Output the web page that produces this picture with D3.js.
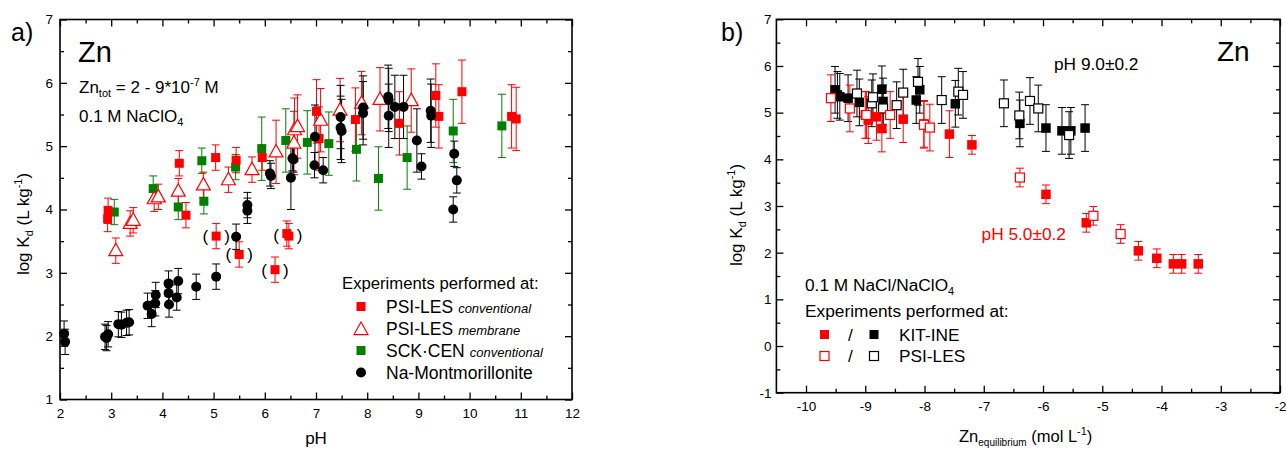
<!DOCTYPE html>
<html><head><meta charset="utf-8">
<script src="https://cdn.jsdelivr.net/npm/d3@7"></script>
<style>
body{margin:0;background:#fff;}
svg text{font-family:Arial,"Liberation Sans",sans-serif;}
</style></head>
<body><svg id="c" width="1286" height="450"></svg>
<script>
// ---------- Panel a) data: [pH, log Kd, error] ----------
const psiConv = [[2.93,3.85,0.2],[2.94,3.98,0.2],[4.33,4.73,0.2],[4.46,3.91,0.2],[5.04,4.82,0.2],[5.44,4.78,0.2],[5.95,4.82,0.2],[7.01,5.55,0.5],[7.06,5.12,0.5],[7.77,5.42,0.5],[8.63,5.36,0.5],[9.34,5.80,0.5],[9.40,5.47,0.5],[9.85,5.86,0.5],[10.82,5.47,0.5],[10.91,5.43,0.5]];
const psiConvBracketed = [[5.05,3.58,0.2],[5.50,3.29,0.2],[6.20,3.05,0.2],[6.43,3.62,0.2],[6.47,3.58,0.2]];
const psiMembrane = [[3.09,3.35,0.2],[3.37,3.78,0.2],[3.43,3.83,0.2],[3.84,4.17,0.2],[3.92,4.20,0.2],[4.31,4.29,0.2],[4.80,4.39,0.2],[5.29,4.47,0.2],[5.75,4.63,0.2],[6.22,4.91,0.5],[6.57,5.05,0.5],[6.58,5.26,0.5],[6.64,5.31,0.5],[7.09,5.41,0.5],[7.47,5.57,0.5],[7.89,5.68,0.5],[8.25,5.74,0.5],[8.86,5.72,0.5]];
const sckConv = [[3.06,3.96,0.2],[3.82,4.33,0.2],[4.31,4.04,0.2],[4.77,4.77,0.2],[4.81,4.13,0.2],[5.43,4.67,0.2],[5.94,4.96,0.5],[6.41,5.09,0.5],[6.83,5.06,0.5],[7.25,5.04,0.5],[7.79,4.95,0.5],[8.22,4.49,0.5],[8.78,4.82,0.5],[9.68,5.24,0.5],[10.63,5.32,0.5]];
const naMont = [[2.08,2.04,0.2],[2.10,1.91,0.2],[2.88,1.99,0.2],[2.94,2.03,0.2],[2.91,1.97,0.2],[3.14,2.19,0.2],[3.20,2.18,0.2],[3.30,2.21,0.2],[3.35,2.22,0.2],[3.71,2.48,0.2],[3.79,2.35,0.2],[3.86,2.52,0.2],[3.87,2.65,0.2],[4.12,2.83,0.2],[4.12,2.68,0.2],[4.13,2.50,0.2],[4.28,2.61,0.2],[4.31,2.87,0.2],[4.66,2.78,0.2],[5.05,2.94,0.2],[5.44,3.57,0.2],[5.66,4.07,0.2],[5.66,3.98,0.2],[6.10,4.57,0.2],[6.12,4.53,0.2],[6.51,4.50,0.5],[6.54,4.81,0.2],[6.56,4.79,0.2],[6.98,5.15,0.5],[6.97,4.70,0.2],[7.14,4.62,0.2],[7.48,5.46,0.5],[7.48,5.29,0.5],[7.50,5.24,0.5],[7.92,5.61,0.5],[7.92,5.52,0.5],[8.41,5.78,0.5],[8.42,5.73,0.5],[8.42,5.48,0.5],[8.54,5.62,0.5],[8.71,5.62,0.5],[8.97,5.09,0.5],[9.06,4.68,0.2],[9.24,5.56,0.5],[9.25,5.48,0.5],[9.70,4.88,0.2],[9.75,4.46,0.2],[9.68,4.00,0.2]];
const xTicksA = [2,3,4,5,6,7,8,9,10,11,12];
const yTicksA = [1,2,3,4,5,6,7];

// ---------- Panel b) data: [log Zn_eq, log Kd, error] ----------
const kitPH9 = [[-9.51,5.49,0.5],[-9.47,5.38,0.5],[-9.43,5.34,0.5],[-9.29,5.31,0.5],[-9.10,5.22,0.5],[-8.72,5.50,0.5],[-8.70,5.24,0.5],[-8.14,5.27,0.5],[-8.08,5.49,0.5],[-7.48,5.19,0.5],[-6.39,4.77,0.5],[-5.95,4.67,0.5],[-5.68,4.61,0.5],[-5.53,4.61,0.5],[-5.29,4.67,0.5]];
const psiPH9 = [[-9.14,5.41,0.5],[-8.89,5.20,0.5],[-8.87,5.33,0.5],[-8.70,5.09,0.5],[-8.47,5.16,0.5],[-8.36,5.43,0.5],[-8.11,5.66,0.5],[-7.71,5.27,0.5],[-7.43,5.45,0.5],[-7.35,5.38,0.5],[-6.66,5.20,0.5],[-6.40,4.94,0.5],[-6.22,5.25,0.5],[-6.08,5.09,0.5],[-5.56,4.52,0.5]];
const kitPH5 = [[-9.00,4.95,0.5],[-8.95,4.84,0.5],[-8.81,4.91,0.5],[-8.72,4.66,0.5],[-8.36,4.86,0.5],[-8.01,4.76,0.5],[-7.58,4.54,0.5],[-7.20,4.31,0.2],[-5.95,3.25,0.2],[-5.27,2.64,0.2],[-4.39,2.04,0.2],[-4.08,1.88,0.2],[-3.80,1.76,0.2],[-3.66,1.76,0.2],[-3.38,1.76,0.2]];
const psiPH5 = [[-9.58,5.31,0.5],[-9.26,5.09,0.5],[-8.98,4.95,0.5],[-8.58,4.95,0.5],[-8.01,4.74,0.5],[-7.91,4.68,0.5],[-6.39,3.61,0.2],[-5.15,2.79,0.2],[-4.69,2.40,0.2]];
const xTicksB = [-10,-9,-8,-7,-6,-5,-4,-3,-2];
const yTicksB = [-1,0,1,2,3,4,5,6,7];

const RED = "#ff0000", GREEN = "#008000", BLACK = "#000000";
const svg = d3.select("#c");

const xA = d3.scaleLinear([2,12],[60,572]);
const yA = d3.scaleLinear([1,7],[399.5,19.5]);
const xB = d3.scaleLinear([-10.5,-2],[776.4,1280]);
const yB = d3.scaleLinear([-1,7],[392.7,19.3]);

function halfSteps(ticks, lo, hi){ const r=[]; for(let i=0;i<ticks.length-1;i++){const v=(ticks[i]+ticks[i+1])/2; if(v>lo&&v<hi) r.push(v);} return r; }

function frame(x, y, xt, yt, xpad, ypad){
  const g = svg.append("g");
  const [x0,x1] = x.range(), [y0,y1] = y.range();
  const xm = halfSteps(xt, x.domain()[0], x.domain()[1]);
  const ym = halfSteps(yt, y.domain()[0], y.domain()[1]);
  const MJ = 7, MN = 4;
  const style = sel => { sel.select(".domain").remove(); sel.selectAll("line").attr("stroke","#000").attr("stroke-width",1.3);
    sel.selectAll("text").attr("font-size",13.5).attr("fill","#000").attr("font-family","Arial, 'Liberation Sans', sans-serif"); };
  g.append("g").attr("transform",`translate(0,${y0})`).call(d3.axisBottom(x).tickValues(xt).tickSize(-MJ).tickPadding(xpad).tickFormat(d=>String(d))).call(style);
  g.append("g").attr("transform",`translate(0,${y0})`).call(d3.axisBottom(x).tickValues(xm).tickSize(-MN).tickFormat("")).call(style);
  g.append("g").attr("transform",`translate(0,${y1})`).call(d3.axisTop(x).tickValues(xt).tickSize(-MJ).tickFormat("")).call(style);
  g.append("g").attr("transform",`translate(0,${y1})`).call(d3.axisTop(x).tickValues(xm).tickSize(-MN).tickFormat("")).call(style);
  g.append("g").attr("transform",`translate(${x0},0)`).call(d3.axisLeft(y).tickValues(yt).tickSize(-MJ).tickPadding(ypad).tickFormat(d=>String(d))).call(style);
  g.append("g").attr("transform",`translate(${x0},0)`).call(d3.axisLeft(y).tickValues(ym).tickSize(-MN).tickFormat("")).call(style);
  g.append("g").attr("transform",`translate(${x1},0)`).call(d3.axisRight(y).tickValues(yt).tickSize(-MJ).tickFormat("")).call(style);
  g.append("g").attr("transform",`translate(${x1},0)`).call(d3.axisRight(y).tickValues(ym).tickSize(-MN).tickFormat("")).call(style);
  g.append("rect").attr("x",x0).attr("y",y1).attr("width",x1-x0).attr("height",y0-y1).attr("fill","none").attr("stroke","#000").attr("stroke-width",1.6);
}

function errBars(data, x, y, color){
  const g = svg.append("g").attr("stroke",color).attr("stroke-width",1).attr("fill","none");
  const cap = 4;
  data.forEach(d=>{
    const cx = x(d[0]), yt = y(d[1]+d[2]), yb = y(d[1]-d[2]);
    g.append("line").attr("x1",cx).attr("x2",cx).attr("y1",yt).attr("y2",yb);
    g.append("line").attr("x1",cx-cap).attr("x2",cx+cap).attr("y1",yt).attr("y2",yt);
    g.append("line").attr("x1",cx-cap).attr("x2",cx+cap).attr("y1",yb).attr("y2",yb);
  });
}
function squares(data, x, y, color, filled, s){
  svg.append("g").selectAll("rect").data(data).join("rect")
    .attr("x",d=>x(d[0])-s/2).attr("y",d=>y(d[1])-s/2).attr("width",s).attr("height",s)
    .attr("fill",filled?color:"#fff").attr("stroke",color).attr("stroke-width",filled?0:1.2);
}
function circles(data, x, y, color, r){
  svg.append("g").selectAll("circle").data(data).join("circle")
    .attr("cx",d=>x(d[0])).attr("cy",d=>y(d[1])).attr("r",r).attr("fill",color);
}
const triPath = (cx,cy,s)=>`M${cx},${cy-s*0.62}L${cx+s*0.58},${cy+s*0.42}L${cx-s*0.58},${cy+s*0.42}Z`;
function triangles(data, x, y, color, s){
  svg.append("g").selectAll("path").data(data).join("path")
    .attr("d",d=>triPath(x(d[0]),y(d[1]),s)).attr("fill","#fff").attr("stroke",color).attr("stroke-width",1.2);
}

// ---------- Panel a ----------
frame(xA, yA, xTicksA, yTicksA, 9, 7);
errBars(sckConv, xA, yA, GREEN);
errBars(psiMembrane, xA, yA, RED);
errBars(psiConv, xA, yA, RED);
errBars(psiConvBracketed, xA, yA, RED);
errBars(naMont, xA, yA, BLACK);
squares(sckConv, xA, yA, GREEN, true, 9);
triangles(psiMembrane, xA, yA, RED, 12);
squares(psiConv, xA, yA, RED, true, 9);
squares(psiConvBracketed, xA, yA, RED, true, 9);
circles(naMont, xA, yA, BLACK, 5);
// brackets around the bracketed points (clusters)
(function(){
  const clusters=[]; psiConvBracketed.forEach(d=>{const c=clusters.find(c=>Math.abs(c.x1-d[0])<0.1); if(c){c.x1=d[0];c.ys.push(d[1]);} else clusters.push({x0:d[0],x1:d[0],ys:[d[1]]});});
  const g=svg.append("g").attr("font-size",17).attr("fill","#000");
  clusters.forEach(c=>{
    const cy = yA(d3.mean(c.ys))+6;
    g.append("text").attr("x",xA(c.x0)-8).attr("y",cy).attr("text-anchor","end").text("(");
    g.append("text").attr("x",xA(c.x1)+8).attr("y",cy).attr("text-anchor","start").text(")");
  });
})();

// texts panel a
svg.append("text").attr("x",11).attr("y",41).attr("font-size",25).text("a)");
svg.append("text").attr("x",78).attr("y",62).attr("font-size",29).text("Zn");
(function(){
  const t=svg.append("text").attr("x",79).attr("y",93).attr("font-size",17);
  t.append("tspan").text("Zn");
  t.append("tspan").attr("font-size",11).attr("dy",4).text("tot");
  t.append("tspan").attr("dy",-4).text(" = 2 - 9*10");
  t.append("tspan").attr("font-size",11).attr("dy",-7).text("-7");
  t.append("tspan").attr("dy",7).text(" M");
  const t2=svg.append("text").attr("x",79).attr("y",122).attr("font-size",17);
  t2.append("tspan").text("0.1 M NaClO");
  t2.append("tspan").attr("font-size",11).attr("dy",4).text("4");
})();
svg.append("text").attr("x",316).attr("y",444).attr("font-size",17).attr("text-anchor","middle").text("pH");
function yTitle(x, y){
  const t=svg.append("text").attr("transform",`translate(${x},${y}) rotate(-90)`).attr("text-anchor","middle").attr("font-size",17);
  t.append("tspan").text("log K");
  t.append("tspan").attr("font-size",11).attr("dy",4).text("d");
  t.append("tspan").attr("dy",-4).text(" (L kg");
  t.append("tspan").attr("font-size",11).attr("dy",-7).text("-1");
  t.append("tspan").attr("dy",7).text(")");
}
yTitle(29, 224);

// legend panel a
(function(){
  const g=svg.append("g");
  g.append("text").attr("x",342).attr("y",289).attr("font-size",16.7).text("Experiments performed at:");
  const rows=[
    {y:306.5, main:"PSI-LES", it:"conventional", m:"sq", c:RED},
    {y:328.5, main:"PSI-LES", it:"membrane", m:"tri", c:RED},
    {y:350.5, main:"SCK·CEN", it:"conventional", m:"sq", c:GREEN},
    {y:372.5, main:"Na-Montmorillonite", it:"", m:"ci", c:BLACK}];
  rows.forEach(r=>{
    if(r.m==="sq") g.append("rect").attr("x",361-4.5).attr("y",r.y-4.5).attr("width",9).attr("height",9).attr("fill",r.c);
    if(r.m==="tri") g.append("path").attr("d",triPath(361,r.y+1,12)).attr("fill","#fff").attr("stroke",r.c).attr("stroke-width",1.2);
    if(r.m==="ci") g.append("circle").attr("cx",361).attr("cy",r.y).attr("r",5).attr("fill",r.c);
    const t=g.append("text").attr("x",386).attr("y",r.y+6).attr("font-size",17.5);
    t.append("tspan").text(r.main);
    if(r.it) t.append("tspan").attr("dx",5).attr("font-size",13).attr("font-style","italic").text(r.it);
  });
})();

// ---------- Panel b ----------
frame(xB, yB, xTicksB, yTicksB, 9, 5);
errBars(kitPH9, xB, yB, BLACK);
errBars(psiPH9, xB, yB, BLACK);
errBars(kitPH5, xB, yB, RED);
errBars(psiPH5, xB, yB, RED);
squares(kitPH9, xB, yB, BLACK, true, 9.5);
squares(psiPH9, xB, yB, BLACK, false, 9);
squares(kitPH5, xB, yB, RED, true, 9.5);
squares(psiPH5, xB, yB, RED, false, 9);

svg.append("text").attr("x",721).attr("y",41).attr("font-size",25).text("b)");
svg.append("text").attr("x",1217).attr("y",61).attr("font-size",28).text("Zn");
svg.append("text").attr("x",1054).attr("y",70).attr("font-size",17.3).text("pH 9.0±0.2");
svg.append("text").attr("x",1066).attr("y",240).attr("font-size",17.3).attr("text-anchor","end").attr("fill",RED).text("pH 5.0±0.2");
(function(){
  const t=svg.append("text").attr("x",805).attr("y",291).attr("font-size",17.3);
  t.append("tspan").text("0.1 M NaCl/NaClO");
  t.append("tspan").attr("font-size",11).attr("dy",4).text("4");
  svg.append("text").attr("x",805).attr("y",317).attr("font-size",17.3).text("Experiments performed at:");
  const rows=[{y:334.5,fill:true,label:"KIT-INE"},{y:356,fill:false,label:"PSI-LES"}];
  rows.forEach(r=>{
    [[824.5,RED],[874,BLACK]].forEach(([cx,c])=>{
      svg.append("rect").attr("x",cx-4.5).attr("y",r.y-4.5).attr("width",9).attr("height",9)
        .attr("fill",r.fill?c:"#fff").attr("stroke",c).attr("stroke-width",r.fill?0:1.2);
    });
    svg.append("text").attr("x",850.5).attr("y",r.y+6).attr("font-size",17.3).attr("text-anchor","middle").text("/");
    svg.append("text").attr("x",899).attr("y",r.y+6).attr("font-size",17.3).text(r.label);
  });
  const tx=svg.append("text").attr("x",959).attr("y",442).attr("font-size",16.5);
  tx.append("tspan").text("Zn");
  tx.append("tspan").attr("font-size",10).attr("dy",4).text("equilibrium");
  tx.append("tspan").attr("dy",-4).text(" (mol L");
  tx.append("tspan").attr("font-size",11).attr("dy",-7).text("-1");
  tx.append("tspan").attr("dy",7).text(")");
})();
yTitle(742, 215);
</script></body></html>
